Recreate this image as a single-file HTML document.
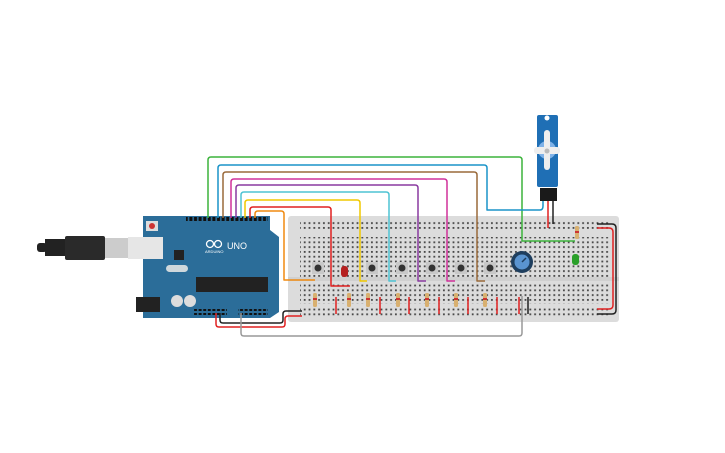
<!DOCTYPE html>
<html><head><meta charset="utf-8"><style>html,body{margin:0;padding:0;background:#fff;width:725px;height:453px;overflow:hidden}svg{display:block}</style></head>
<body>
<svg width="725" height="453" viewBox="0 0 725 453" xmlns="http://www.w3.org/2000/svg" font-family="Liberation Sans, sans-serif">
<defs>
<pattern id="dots" x="0" y="0" width="4.8" height="4.8" patternUnits="userSpaceOnUse"><rect x="1.4" y="1.4" width="1.8" height="1.8" fill="#444"/></pattern>
<pattern id="pins" x="0" y="0" width="4.6" height="6" patternUnits="userSpaceOnUse"><rect x="0.8" y="1" width="3" height="4" fill="#111"/></pattern>
</defs>
<!-- breadboard -->
<rect x="288" y="216" width="331" height="106" rx="3" fill="#dcdcdc"/>
<rect x="300" y="220" width="310" height="10" fill="url(#dots)"/>
<rect x="300" y="237" width="310" height="40" fill="url(#dots)"/>
<rect x="300" y="282" width="310" height="22" fill="url(#dots)"/>
<rect x="300" y="306" width="310" height="10" fill="url(#dots)"/>
<rect x="288" y="277" width="331" height="4" fill="#d0d0d0"/>
<!-- red rail ticks -->
<g stroke="#e02020" stroke-width="1.5">
<line x1="336" y1="297" x2="336" y2="314"/><line x1="380" y1="297" x2="380" y2="314"/><line x1="409" y1="297" x2="409" y2="314"/><line x1="439" y1="297" x2="439" y2="314"/><line x1="468" y1="297" x2="468" y2="314"/><line x1="497" y1="297" x2="497" y2="314"/><line x1="519" y1="297" x2="519" y2="314"/>
</g>
<line x1="528" y1="297" x2="528" y2="314" stroke="#222" stroke-width="1.5"/>
<!-- USB cable -->
<rect x="37" y="243" width="10" height="9" rx="3" fill="#222"/>
<rect x="45" y="239" width="22" height="17" fill="#222"/>
<rect x="65" y="236" width="40" height="24" rx="2" fill="#2a2a2a"/>
<rect x="105" y="238" width="25" height="20" fill="#ccc"/>
<rect x="128" y="237" width="35" height="22" fill="#e6e6e6"/>
<!-- Arduino -->
<path d="M143 216 H270 V230 L279 237 V312 L270 318 H143 Z" fill="#2b6d99"/>
<rect x="128" y="237" width="35" height="22" fill="#e6e6e6"/>
<rect x="186" y="217" width="82" height="6" fill="url(#pins)"/>
<rect x="196" y="277" width="72" height="15" fill="#222"/>
<rect x="136" y="297" width="24" height="15" fill="#222"/>
<rect x="146" y="221" width="12" height="10" fill="#ddd"/><circle cx="152" cy="226" r="3" fill="#c33"/>
<rect x="174" y="250" width="10" height="10" fill="#222"/>
<rect x="166" y="265" width="22" height="7" rx="3.5" fill="#cfd8dc"/>
<circle cx="177" cy="301" r="6" fill="#ddd"/><circle cx="190" cy="301" r="6" fill="#ddd"/>
<rect x="194" y="309" width="33" height="6" fill="url(#pins)"/>
<rect x="238" y="309" width="30" height="6" fill="url(#pins)"/>
<text x="227" y="249" font-size="9" fill="#fff">UNO</text>
<text x="205" y="253" font-size="4" fill="#fff">ARDUINO</text>
<circle cx="210" cy="244" r="3.5" fill="none" stroke="#fff" stroke-width="1.3"/><circle cx="218" cy="244" r="3.5" fill="none" stroke="#fff" stroke-width="1.3"/>
<!-- top wires -->
<g fill="none" stroke-width="1.5" stroke-linejoin="round">
<path d="M208 218 V160 Q208 157 211 157 H519 Q522 157 522 160 V241 H575" stroke="#3cb43c"/>
<path d="M218 218 V168 Q218 165 221 165 H484 Q487 165 487 168 V210 H540 Q543 210 543 206 V198" stroke="#1a94c8"/>
<path d="M223 218 V175 Q223 172 226 172 H474 Q477 172 477 175 V281 H485" stroke="#9a6a3a"/>
<path d="M231 218 V182 Q231 179 234 179 H444 Q447 179 447 182 V281 H455" stroke="#d0309a"/>
<path d="M236 218 V188 Q236 185 239 185 H415 Q418 185 418 188 V281 H426" stroke="#8a3aa0"/>
<path d="M241 218 V195 Q241 192 244 192 H386 Q389 192 389 195 V281 H396" stroke="#4ec3d3"/>
<path d="M245 218 V203 Q245 200 248 200 H357 Q360 200 360 203 V281 H367" stroke="#f0c800"/>
<path d="M250 218 V210 Q250 207 253 207 H328 Q331 207 331 210 V286 H350" stroke="#e02020"/>
<path d="M255 218 V214 Q255 211 258 211 H281 Q284 211 284 214 V280 H315" stroke="#f08a10"/>
<!-- bottom wires -->
<path d="M220 313 V320 Q220 323 223 323 H280 Q283 323 283 320 V314 Q283 311 286 311 H302" stroke="#222"/>
<path d="M216 313 V324 Q216 327 219 327 H282 Q285 327 285 324 V319 Q285 316 288 316 H302" stroke="#e02020"/>
<path d="M241 313 V333 Q241 336 244 336 H519 Q522 336 522 333 V296" stroke="#999"/>
<!-- right rail wires -->
<path d="M597 224 H612 Q616 224 616 228 V310 Q616 314 612 314 H597" stroke="#222"/>
<path d="M597 228 H609 Q613 228 613 232 V305 Q613 309 609 309 H597" stroke="#e02020"/>
<line x1="548" y1="200" x2="548" y2="228" stroke="#e02020"/>
<line x1="553" y1="200" x2="553" y2="224" stroke="#222"/>
</g>
<!-- servo -->
<rect x="537" y="115" width="21" height="72" rx="2" fill="#1f6fb5"/>
<circle cx="547" cy="118" r="2.5" fill="#fff"/>
<circle cx="547" cy="150" r="9" fill="#7fb2e8"/>
<rect x="544" y="130" width="6" height="40" rx="3" fill="#eee"/>
<rect x="534" y="147" width="26" height="7" rx="3" fill="#eee"/>
<circle cx="547" cy="151" r="2.5" fill="#bbb"/>
<rect x="540" y="188" width="17" height="13" fill="#1a1a1a"/>
<!-- buttons -->
<g fill="#c8c8c8"><rect x="312" y="262" width="12" height="12"/><rect x="366" y="262" width="12" height="12"/><rect x="396" y="262" width="12" height="12"/><rect x="426" y="262" width="12" height="12"/><rect x="455" y="262" width="12" height="12"/><rect x="484" y="262" width="12" height="12"/></g>
<g fill="#333"><circle cx="318" cy="268" r="3.5"/><circle cx="372" cy="268" r="3.5"/><circle cx="402" cy="268" r="3.5"/><circle cx="432" cy="268" r="3.5"/><circle cx="461" cy="268" r="3.5"/><circle cx="490" cy="268" r="3.5"/></g>
<!-- LEDs -->
<rect x="341" y="266" width="7" height="11" rx="3" fill="#b52020"/>
<rect x="572" y="254" width="7" height="11" rx="3" fill="#2aa02a"/>
<!-- pot -->
<circle cx="522" cy="262" r="11" fill="#1e3e5e"/><circle cx="522" cy="262" r="7.5" fill="#5a94d0"/>
<line x1="522" y1="262" x2="526" y2="258" stroke="#1e3e5e" stroke-width="1.5"/>
<!-- resistors -->
<g fill="#d8b070">
<rect x="313" y="293" width="4" height="14" rx="1.5"/><rect x="347" y="293" width="4" height="14" rx="1.5"/><rect x="366" y="293" width="4" height="14" rx="1.5"/><rect x="396" y="293" width="4" height="14" rx="1.5"/><rect x="425" y="293" width="4" height="14" rx="1.5"/><rect x="454" y="293" width="4" height="14" rx="1.5"/><rect x="483" y="293" width="4" height="14" rx="1.5"/><rect x="575" y="226" width="4" height="13" rx="1.5"/>
</g>
<g fill="#c33"><rect x="313" y="298" width="4" height="2"/><rect x="347" y="298" width="4" height="2"/><rect x="366" y="298" width="4" height="2"/><rect x="396" y="298" width="4" height="2"/><rect x="425" y="298" width="4" height="2"/><rect x="454" y="298" width="4" height="2"/><rect x="483" y="298" width="4" height="2"/><rect x="575" y="231" width="4" height="2"/></g>
</svg>
</body></html>
